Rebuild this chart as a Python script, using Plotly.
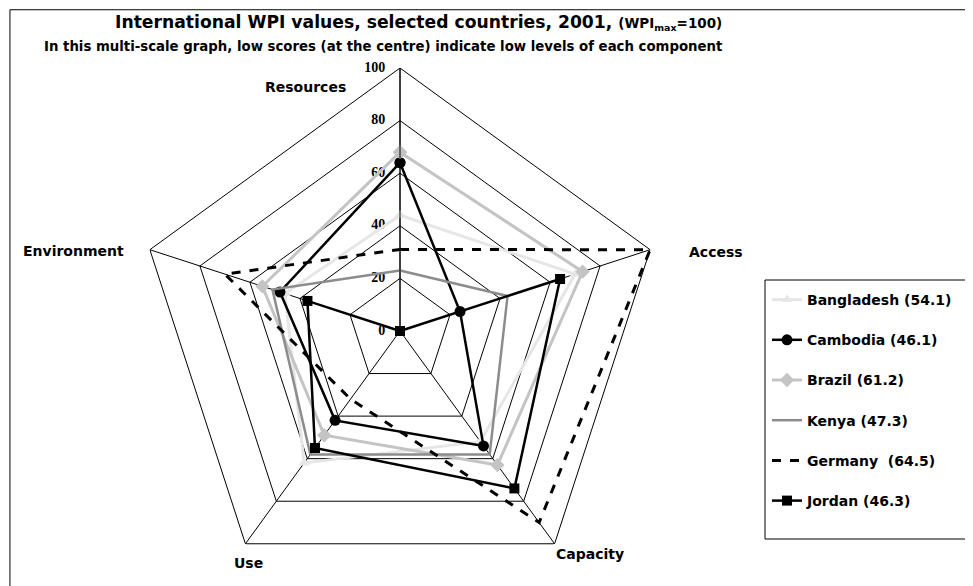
import plotly.graph_objects as go

categories = ["Resources", "Access", "Capacity", "Use", "Environment"]

bangladesh = [44, 70, 52, 62, 46]
cambodia = [64, 24, 54, 42, 48]
brazil = [68, 73, 63, 49, 55]
kenya = [23, 43, 58, 58, 51]
germany = [31, 100, 90, 32, 70]
jordan = [0, 64, 74, 55, 37]

series_names = ["Bangladesh (54.1)", "Cambodia (46.1)", "Brazil (61.2)",
                "Kenya (47.3)", "Germany&nbsp; (64.5)", "Jordan (46.3)"]
radial_ticks = [0, 20, 40, 60, 80, 100]
radial_tick_labels = [str(v) for v in radial_ticks]

W, H = 973, 586


def closed(v):
    return v + v[:1]


def px(x):
    return x / W


def py(y):
    return 1 - y / H


theta = closed(categories)

styles = [
    dict(line=dict(color="#e6e6e6", width=3), marker=dict(symbol="triangle-up", size=10, color="#e6e6e6"), mode="lines+markers"),
    dict(line=dict(color="#000000", width=2.5), marker=dict(symbol="circle", size=11, color="#000000"), mode="lines+markers"),
    dict(line=dict(color="#c4c4c4", width=3), marker=dict(symbol="diamond", size=11, color="#c4c4c4"), mode="lines+markers"),
    dict(line=dict(color="#8c8c8c", width=2.5), mode="lines"),
    dict(line=dict(color="#000000", width=3, dash="dash"), mode="lines"),
    dict(line=dict(color="#000000", width=2.5), marker=dict(symbol="square", size=10, color="#000000"), mode="lines+markers"),
]
data = [bangladesh, cambodia, brazil, kenya, germany, jordan]

fig = go.Figure()

# pentagonal grid rings at each radial tick value
for t in radial_ticks[1:]:
    fig.add_trace(go.Scatterpolar(
        r=[t] * len(theta), theta=theta, mode="lines",
        line=dict(color="black", width=1), showlegend=False,
        hoverinfo="skip", cliponaxis=False))

# radial scale labels placed on the Resources spoke, left of the axis
fig.add_trace(go.Scatterpolar(
    r=radial_ticks, theta=[categories[0]] * len(radial_ticks),
    mode="markers+text", text=radial_tick_labels, textposition="middle left",
    marker=dict(size=22, color="rgba(0,0,0,0)"),
    textfont=dict(family="Liberation Serif", size=14, color="black", weight="bold"),
    showlegend=False, hoverinfo="skip", cliponaxis=False))

for i, (name, vals, st) in enumerate(zip(series_names, data, styles)):
    fig.add_trace(go.Scatterpolar(r=closed(vals), theta=theta, name=name,
                                  legendgroup=f"g{i}", cliponaxis=False, **st))

# polar placement: centre (392, 323), radius 263
cx, cy, R = 392, 323, 263
fig.update_layout(
    width=W, height=H,
    margin=dict(l=0, r=0, t=0, b=0),
    paper_bgcolor="white",
    plot_bgcolor="white",
    font=dict(family="DejaVu Sans", color="black"),
    polar=dict(
        domain=dict(x=[px(cx - R), px(cx + R)], y=[py(cy + R), py(cy - R)]),
        bgcolor="rgba(0,0,0,0)",
        radialaxis=dict(range=[0, 100], tickvals=radial_ticks, angle=90,
                        showticklabels=False, showgrid=False,
                        showline=True, linecolor="black", linewidth=1,
                        ticks=""),
        angularaxis=dict(direction="clockwise", rotation=90,
                         showline=False,
                         gridcolor="black", gridwidth=1, ticks="",
                         showticklabels=False),
    ),
    legend=dict(x=px(759), y=py(276), xanchor="left", yanchor="top",
                borderwidth=0, bgcolor="rgba(0,0,0,0)",
                font=dict(family="DejaVu Sans", size=14, color="black", weight="bold"),
                tracegroupgap=19),
    showlegend=True,
)

label_pos = {"Resources": (297, 79), "Access": (708, 244),
             "Capacity": (582, 546), "Use": (240, 555),
             "Environment": (65, 243)}
for c in categories:
    x, y = label_pos[c]
    fig.add_annotation(x=px(x), y=py(y), xref="paper", yref="paper", text=f"<b>{c}</b>",
                       xanchor="center", yanchor="middle", showarrow=False,
                       font=dict(size=14, family="DejaVu Sans"))

fig.add_annotation(x=px(410), y=py(14), xref="paper", yref="paper", showarrow=False,
                   xanchor="center", yanchor="middle",
                   text="<b>International WPI values, selected countries, 2001, </b><b><span style='font-size:13.5px'>(WPI<sub>max</sub>=100)</span></b>",
                   font=dict(size=17.2, family="DejaVu Sans"))
fig.add_annotation(x=px(375), y=py(39), xref="paper", yref="paper", showarrow=False,
                   xanchor="center", yanchor="middle",
                   text="<b>In this multi-scale graph, low scores (at the centre) indicate low levels of each component</b>",
                   font=dict(size=13.3, family="DejaVu Sans"))

# legend frame
fig.add_shape(type="rect", xref="paper", yref="paper", x0=px(757), x1=px(966), y0=py(531), y1=py(272),
              line=dict(color="black", width=1))
# chart border
fig.add_shape(type="rect", xref="paper", yref="paper", x0=0.002, x1=0.998, y0=0.003, y1=0.997,
              line=dict(color="black", width=1))

fig.write_html("out.html")
